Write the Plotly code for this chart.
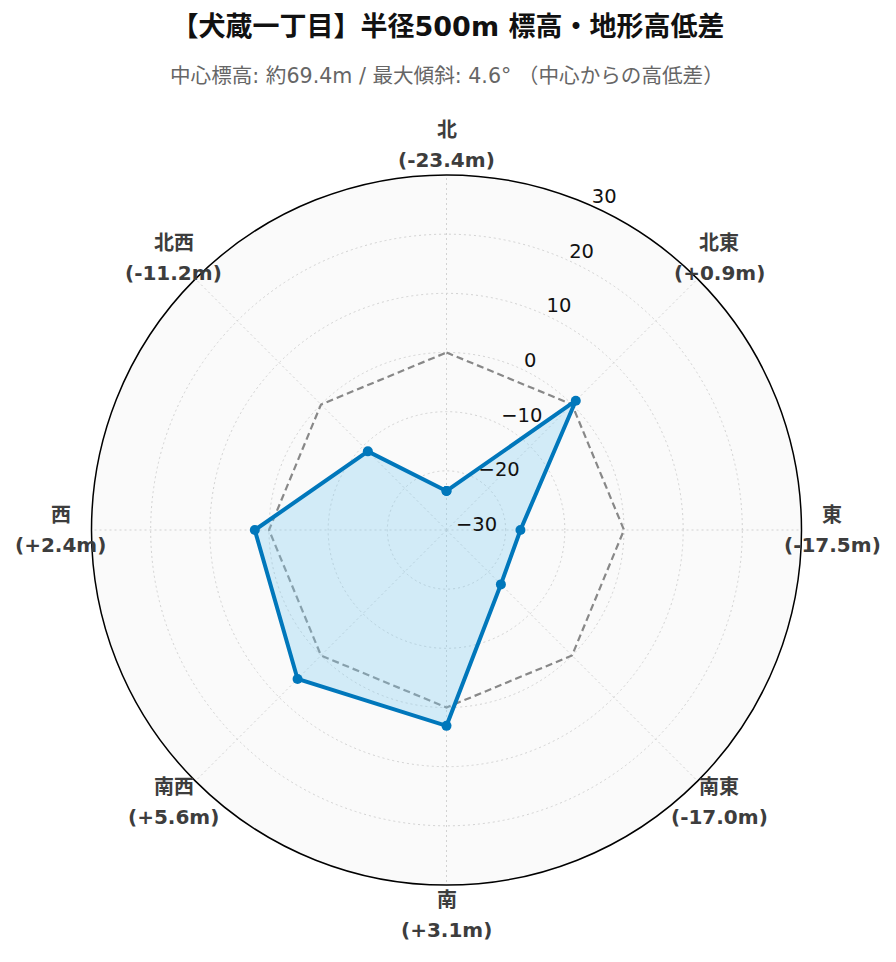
import math
import plotly.graph_objects as go

directions = ["北", "北東", "東", "南東", "南", "南西", "西", "北西"]
diffs = [-23.4, 0.9, -17.5, -17.0, 3.1, 5.6, 2.4, -11.2]
zero_ref = [0, 0, 0, 0, 0, 0, 0, 0]
radial_ticks = [-30, -20, -10, 0, 10, 20, 30]
radial_tick_text = ["\u221230", "\u221220", "\u221210", "0", "10", "20", "30"]

value_labels = [f"({v:+.1f}m)" for v in diffs]

W, H = 880, 946
ML, MR, MT, MB = 83, 86, 167, 69
PLOT = H - MT - MB          # polar square side in px
LABEL_R = (PLOT / 2 + 30) / PLOT   # label radius as paper fraction

fig = go.Figure()
fig.add_trace(go.Scatterpolar(
    r=zero_ref + [zero_ref[0]], theta=directions + [directions[0]], mode="lines",
    line=dict(color="#888888", width=2.2, dash="7px,4px"), showlegend=False, hoverinfo="skip"))
fig.add_trace(go.Scatterpolar(
    r=diffs + [diffs[0]], theta=directions + [directions[0]], mode="lines+markers",
    line=dict(color="#0077bb", width=4), marker=dict(size=10, color="#0077bb"),
    fill="toself", fillcolor="rgba(135,206,240,0.35)", showlegend=False))

annotations = [dict(text="中心標高: 約69.4m / 最大傾斜: 4.6° （中心からの高低差）",
                    x=0.5, xref="paper", y=1 + (MT - 68) / PLOT, yref="paper",
                    yanchor="middle", showarrow=False,
                    font=dict(size=20.6, color="#666666"))]
lab_font = dict(size=20, color="#3d3d3d")
for i, (d, vl) in enumerate(zip(directions, value_labels)):
    a = math.radians(i * 360 / len(directions))
    x = 0.5 + LABEL_R * math.sin(a)
    y = 0.5 + LABEL_R * math.cos(a)
    annotations.append(dict(text=f"<b>{d}</b>", x=x, y=y, xref="paper", yref="paper",
                            xanchor="center", yanchor="middle", yshift=15,
                            showarrow=False, font=lab_font))
    annotations.append(dict(text=f"<b>{vl}</b>", x=x, y=y, xref="paper", yref="paper",
                            xanchor="center", yanchor="middle", yshift=-15,
                            showarrow=False, font=lab_font))

fig.update_layout(
    width=W, height=H,
    paper_bgcolor="white",
    font=dict(family="DejaVu Sans, Noto Sans CJK JP, sans-serif", color="#333333"),
    margin=dict(l=ML, r=MR, t=MT, b=MB),
    title=dict(text="<b>【犬蔵一丁目】半径500m 標高・地形高低差</b>", x=0.5, xanchor="center",
               y=1 - 19 / H, yanchor="middle", font=dict(size=27, color="#111111")),
    annotations=annotations,
    polar=dict(
        bgcolor="#fafafa",
        radialaxis=dict(range=[-30, 30], tickvals=radial_ticks,
                        ticktext=[t + "<br> " for t in radial_tick_text],
                        angle=67.5, tickangle=67.5,
                        showline=False, ticks="", gridcolor="#d2d2d2", griddash="2px,3px",
                        tickfont=dict(size=19.5, color="#111111")),
        angularaxis=dict(direction="clockwise", rotation=90, categoryarray=directions,
                         categoryorder="array", showticklabels=False,
                         showline=True, linecolor="black", linewidth=1.5, ticks="",
                         gridcolor="#d2d2d2", griddash="2px,3px"),
    ),
)
fig.write_html("out.html")
